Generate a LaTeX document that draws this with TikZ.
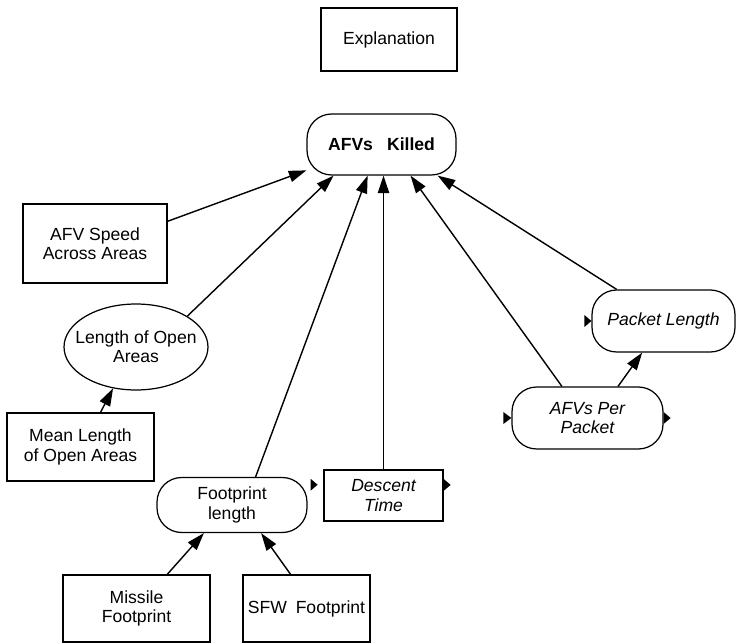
\documentclass[tikz,border=0pt]{standalone}
\usepackage{fontspec}
\setmainfont{Liberation Sans}
\usetikzlibrary{arrows.meta,shapes.geometric}

\tikzset{
  box/.style={draw, line width=0.7pt, align=center, inner sep=2pt,
    font=\fontsize{10pt}{11pt}\selectfont},
  rbox/.style={box, rounded corners=14pt},
  oval/.style={box, ellipse, inner xsep=-8pt, inner ysep=0pt},
  arr/.style={-{Triangle[length=10pt,width=6.5pt]}, line width=0.8pt},
}

\begin{document}
\begin{tikzpicture}[x=0.02cm, y=-0.02cm]
  \useasboundingbox (0, 0) rectangle (739, 644);

  \node[box, minimum width=2.72cm, minimum height=1.26cm] (expl) at (389, 39.5) {Explanation};
  \node[rbox, minimum width=2.98cm, minimum height=1.22cm] (kill) at (381.5, 144.5)
    {\textbf{AFVs\hspace{0.8em}Killed}};

  %% left side
  \node[box, minimum width=2.88cm, minimum height=1.58cm] (speed) at (95, 243.5) {AFV Speed\\Across Areas};
  \node[oval, minimum width=2.88cm, minimum height=1.72cm] (open) at (136, 347) {Length of Open\\Areas};
  \node[box, minimum width=2.94cm, minimum height=1.36cm] (mean) at (80.5, 447) {Mean Length\\of Open Areas};

  %% bottom
  \node[rbox, minimum width=3cm, minimum height=1.1cm] (foot) at (232, 505) {Footprint\\length};
  \node[box, minimum width=2.38cm, minimum height=1.02cm] (desc) at (383.5, 495.5) {\itshape Descent\\\itshape Time};
  \node[box, minimum width=2.94cm, minimum height=1.34cm] (miss) at (136.5, 608.5) {Missile\\Footprint};
  \node[box, minimum width=2.54cm, minimum height=1.34cm] (sfw) at (306.5, 608.5) {SFW\hspace{0.5em}Footprint};

  %% right side
  \node[rbox, minimum width=3.02cm, minimum height=1.24cm] (per) at (587.5, 418) {\itshape AFVs Per\\\itshape Packet};
  \node[rbox, minimum width=2.86cm, minimum height=1.24cm] (pkt) at (663.5, 321) {\itshape Packet Length};

  %% arrows
  \draw[arr] (speed.17) -- (kill.199);
  \draw[arr] (open.north east) -- (kill.213);
  \draw[arr] (foot.50) -- (kill.246);
  \draw[arr] (desc.north) -- (desc.north |- kill.south);
  \draw[arr] (per.129) -- (kill.313);
  \draw[arr] (pkt.146) -- (kill.331);
  \draw[arr] (per.46) -- (pkt.236);
  \draw[arr] (mean.60) -- (open.241);
  \draw[arr] (miss.48) -- (foot.225);
  \draw[arr] (sfw.115) -- (foot.316);

  %% ports
  \fill (pkt.west) -- ++(-7, -6) -- ++(0, 12) -- cycle;
  \fill (per.west) -- ++(-8, -6) -- ++(0, 12) -- cycle;
  \fill (per.east) ++(0, -6) -- ++(7, 6) -- ++(-7, 6) -- cycle;
  \fill (foot.15) ++(3, -6) -- ++(7, 6) -- ++(-7, 6) -- cycle;
  \fill (desc.10) ++(0, -6) -- ++(7, 6) -- ++(-7, 6) -- cycle;
\end{tikzpicture}
\end{document}
